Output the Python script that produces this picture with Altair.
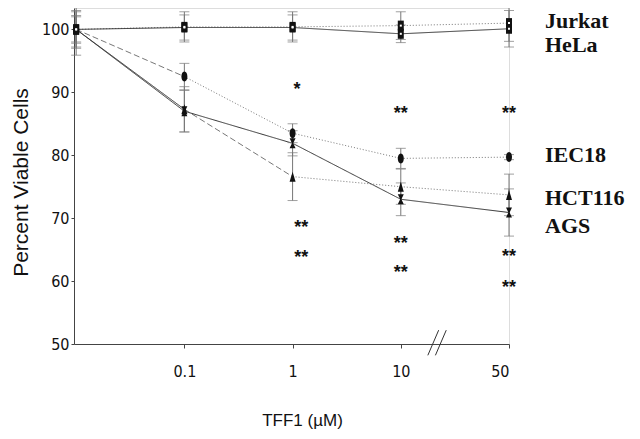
import altair as alt
import pandas as pd

# ---------------- data ----------------
conc_labels = ["0", "0.1", "1", "10", "50"]      # TFF1 (uM); "0" = control
conc_pos = [0, 1, 2, 3, 4]                        # evenly spaced positions on the axis

series = ["Jurkat", "HeLa", "IEC18", "HCT116", "AGS"]
jurkat = [100.0, 100.4, 100.4, 100.6, 101.0]
jurkat_err = [2.8, 2.4, 2.4, 2.2, 2.9]
hela = [100.0, 100.3, 100.3, 99.3, 100.1]
hela_err = [2.2, 2.0, 2.0, 1.4, 2.9]
iec18 = [100.0, 92.5, 83.5, 79.5, 79.7]
iec18_err = [4.1, 2.1, 1.5, 1.6, 0.4]
hct116 = [100.0, 87.3, 76.6, 75.0, 73.7]
hct116_err = [3.0, 3.6, 3.8, 2.8, 3.3]
ags = [100.0, 87.0, 81.9, 73.0, 70.9]
ags_err = [2.0, 3.3, 2.0, 2.6, 3.75]

# line style of each segment between consecutive concentrations
seg_styles = {
    "Jurkat": ["dot", "dot", "dot", "dot"],
    "HeLa": ["solid", "solid", "solid", "solid"],
    "IEC18": ["dash", "dot", "dot", "dot"],
    "HCT116": ["solid", "dash", "dot", "dot"],
    "AGS": ["solid", "solid", "solid", "solid"],
}

# significance marks
star_text = ["*", "**", "**", "**", "**", "**", "**", "**", "**"]
star_pos = [2.04, 2.08, 2.08, 3, 3, 3, 4, 4, 4]
star_y = [91.0, 69.1, 64.3, 87.2, 66.6, 61.9, 87.2, 64.4, 59.6]

# right-hand series labels (y of text baseline)
label_y = [100.2, 96.4, 79.0, 72.1, 67.65]

# axis break marks on the x axis
break_pos = [3.30, 3.37]

# ---------------- build tables ----------------
vals = {"Jurkat": jurkat, "HeLa": hela, "IEC18": iec18, "HCT116": hct116, "AGS": ags}
errs = {"Jurkat": jurkat_err, "HeLa": hela_err, "IEC18": iec18_err,
        "HCT116": hct116_err, "AGS": ags_err}

pts = []
for s in series:
    for i, p in enumerate(conc_pos):
        v = vals[s][i]
        e = errs[s][i]
        pts.append({"series": s, "pos": p, "conc": conc_labels[i], "v": v,
                    "lo": v - e, "hi": v + e})
pts = pd.DataFrame(pts)

segs = []
for s in series:
    for k in range(len(conc_pos) - 1):
        for j in (k, k + 1):
            segs.append({"seg": f"{s}-{k}", "style": seg_styles[s][k],
                         "pos": conc_pos[j], "v": vals[s][j]})
segs = pd.DataFrame(segs)

stars = pd.DataFrame({"pos": star_pos, "v": star_y, "t": star_text})
labels = pd.DataFrame({"pos": [conc_pos[-1]] * len(series), "v": label_y, "t": series})
breaks = pd.DataFrame({"x1": [b - 0.05 for b in break_pos],
                       "x2": [b + 0.05 for b in break_pos],
                       "y1": [48.2] * 2, "y2": [52.2] * 2})

xscale = alt.Scale(domain=[-0.02, 4], nice=False, zero=False)
yscale = alt.Scale(domain=[50, 103.4], nice=False, zero=False)

label_expr = f"{conc_labels}[datum.value]"
tick_font = "Liberation Sans Narrow, Arial Narrow, DejaVu Sans Condensed, sans-serif"

X = alt.X("pos:Q", scale=xscale, axis=alt.Axis(
    values=[1, 2, 3, 4], labelExpr=label_expr, title="TFF1 (\u00b5M)",
    grid=False, tickSize=4, labelPadding=15, labelFont=tick_font, labelFontSize=16,
    labelColor="#111", titleFont="Liberation Sans, Arial, sans-serif", titleFontSize=17,
    titleFontWeight="normal", titleColor="#111", titleX=228, titleY=76,
    titleBaseline="middle", domainColor="#444", tickColor="#444"))
Y = alt.Y("v:Q", scale=yscale, axis=alt.Axis(
    values=[50, 60, 70, 80, 90, 100], title="Percent Viable Cells", grid=False,
    tickSize=3, labelPadding=2, labelFont=tick_font, labelFontSize=16,
    labelColor="#111", titleFont="Liberation Sans, Arial, sans-serif", titleFontSize=21,
    titleFontWeight="normal", titleColor="#111", titleAngle=270, titleX=-53, titleY=174,
    titleAlign="center", titleBaseline="middle", domainColor="#444", tickColor="#444"))

lines = alt.Chart(segs).mark_line(strokeWidth=1).encode(
    x=X, y=Y, detail="seg:N",
    color=alt.Color("style:N", scale=alt.Scale(
        domain=["solid", "dash", "dot"], range=["#333", "#777", "#777"]), legend=None),
    strokeDash=alt.StrokeDash("style:N", scale=alt.Scale(
        domain=["solid", "dash", "dot"], range=[[1, 0], [6, 3], [1, 2]]), legend=None))

base = alt.Chart(pts)
ebars = base.mark_rule(color="#777", strokeWidth=1).encode(
    x=alt.X("pos:Q", scale=xscale), y=alt.Y("lo:Q", scale=yscale), y2="hi:Q")
cap_hi = base.mark_tick(orient="horizontal", size=10, thickness=1, color="#777").encode(
    x=alt.X("pos:Q", scale=xscale), y=alt.Y("hi:Q", scale=yscale))
cap_lo = base.mark_tick(orient="horizontal", size=10, thickness=1, color="#777").encode(
    x=alt.X("pos:Q", scale=xscale), y=alt.Y("lo:Q", scale=yscale))

rect = "M-0.6,-1H0.6V1H-0.6Z"
ellipse = "M0,-1C0.8,-1 0.8,1 0,1C-0.8,1 -0.8,-1 0,-1Z"
tri = "M0,-1L0.6,1H-0.6Z"
hourglass = "M-0.6,-1H0.6L0.12,0L0.6,1H-0.6L-0.12,0Z"

points = base.mark_point(filled=True, opacity=1, color="#111", strokeWidth=0).encode(
    x=alt.X("pos:Q", scale=xscale), y=alt.Y("v:Q", scale=yscale),
    shape=alt.Shape("series:N", scale=alt.Scale(
        domain=series, range=[rect, rect, ellipse, tri, hourglass]), legend=None),
    size=alt.Size("series:N", scale=alt.Scale(
        domain=series, range=[100, 100, 100, 169, 169]), legend=None))
dots = base.transform_filter(
    alt.FieldOneOfPredicate(field="series", oneOf=["Jurkat", "HeLa"])
).mark_point(filled=True, opacity=1, color="white", shape="square", size=4,
             strokeWidth=0).encode(
    x=alt.X("pos:Q", scale=xscale), y=alt.Y("v:Q", scale=yscale))

star_layer = alt.Chart(stars).mark_text(
    font="Liberation Sans, Arial, sans-serif", fontSize=18, fontWeight="bold",
    color="#111", baseline="middle", align="center", dy=4).encode(
    x=alt.X("pos:Q", scale=xscale), y=alt.Y("v:Q", scale=yscale), text="t:N")

label_layer = alt.Chart(labels).mark_text(
    font="Liberation Serif, Times New Roman, serif", fontSize=22, fontWeight="bold",
    color="#111", baseline="alphabetic", align="left", dx=36).encode(
    x=alt.X("pos:Q", scale=xscale), y=alt.Y("v:Q", scale=yscale), text="t:N")

break_layer = alt.Chart(breaks).mark_rule(color="#333", strokeWidth=1).encode(
    x=alt.X("x1:Q", scale=xscale), x2="x2:Q",
    y=alt.Y("y1:Q", scale=yscale), y2="y2:Q")

chart = alt.layer(
    lines, ebars, cap_hi, cap_lo, points, dots, star_layer, label_layer, break_layer
).properties(
    width=435, height=336,
    padding={"left": 66, "top": 0, "right": 123, "bottom": 87},
    autosize=alt.AutoSizeParams(type="none"),
).configure_view(stroke=None).configure(background="white")

chart.save("out.html", embed_options={"renderer": "svg", "actions": False})
